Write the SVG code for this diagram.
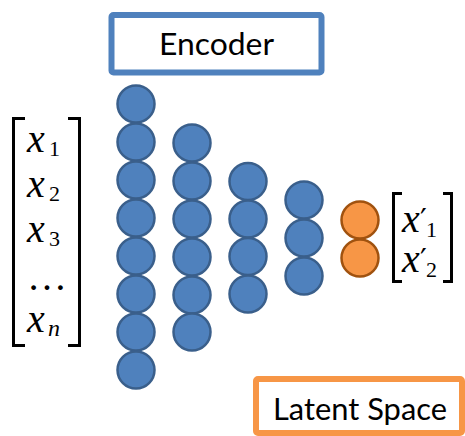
<svg xmlns="http://www.w3.org/2000/svg" width="465" height="436" viewBox="0 0 465 436">
<style>
.n{fill:#4F81BD;stroke:#3A5F8B;stroke-width:2.5}
.o{fill:#F79646;stroke:#A0520F;stroke-width:2.5}
.lbl{font-family:Lato,"Liberation Sans",sans-serif;font-size:30px;fill:#000}
.v{font-family:"Liberation Serif",serif;font-style:italic;font-size:40px;fill:#000}
.s{font-family:"Liberation Serif",serif;font-size:22px;fill:#000}
.si{font-family:"Liberation Serif",serif;font-style:italic;font-size:24px;fill:#000}
.sub{font-family:"Liberation Serif",serif;font-style:normal;font-size:22px}
.p{font-family:"DejaVu Sans",sans-serif;font-style:normal;font-size:30px}
.dots{font-family:"Liberation Serif",serif;font-size:40px;fill:#000}
.br{fill:none;stroke:#000;stroke-width:3}
</style>
<rect width="465" height="436" fill="#fff"/>
<g id="encoder">
<rect x="111.5" y="15" width="210" height="57.5" rx="2" fill="#fff" stroke="#4F81BD" stroke-width="6"/>
<text class="lbl" x="216.5" y="55" text-anchor="middle" textLength="115" lengthAdjust="spacingAndGlyphs">Encoder</text>
</g>
<g id="latent-space">
<rect x="256" y="379" width="206" height="54" rx="2" fill="#fff" stroke="#F79646" stroke-width="6"/>
<text class="lbl" x="360" y="420" text-anchor="middle" textLength="174" lengthAdjust="spacingAndGlyphs">Latent Space</text>
</g>
<g id="input-vector">
<path class="br" d="M25,118.5 H13.5 V345.5 H25"/>
<path class="br" d="M68,118.5 H79.5 V345.5 H68"/>
<text class="v" x="27" y="152">x</text><text class="s" x="49" y="156">1</text>
<text class="v" x="27" y="197">x</text><text class="s" x="49" y="201">2</text>
<text class="v" x="27" y="242">x</text><text class="s" x="49" y="246">3</text>
<text class="dots" x="47" y="290" text-anchor="middle">…</text>
<text class="v" x="27" y="332">x</text><text class="si" x="48" y="336">n</text>
</g>
<g id="layer1">
<circle class="n" cx="136" cy="104" r="18.5"/>
<circle class="n" cx="136" cy="142" r="18.5"/>
<circle class="n" cx="136" cy="180" r="18.5"/>
<circle class="n" cx="136" cy="218" r="18.5"/>
<circle class="n" cx="136" cy="256" r="18.5"/>
<circle class="n" cx="136" cy="294" r="18.5"/>
<circle class="n" cx="136" cy="332" r="18.5"/>
<circle class="n" cx="136" cy="370" r="18.5"/>
</g>
<g id="layer2">
<circle class="n" cx="192" cy="143" r="18.5"/>
<circle class="n" cx="192" cy="181" r="18.5"/>
<circle class="n" cx="192" cy="219" r="18.5"/>
<circle class="n" cx="192" cy="257" r="18.5"/>
<circle class="n" cx="192" cy="295" r="18.5"/>
<circle class="n" cx="192" cy="332" r="18.5"/>
</g>
<g id="layer3">
<circle class="n" cx="248" cy="181.5" r="18.5"/>
<circle class="n" cx="248" cy="219" r="18.5"/>
<circle class="n" cx="248" cy="256.5" r="18.5"/>
<circle class="n" cx="248" cy="294" r="18.5"/>
</g>
<g id="layer4">
<circle class="n" cx="304" cy="200" r="18.5"/>
<circle class="n" cx="304" cy="238" r="18.5"/>
<circle class="n" cx="304" cy="276" r="18.5"/>
</g>
<g id="latent">
<circle class="o" cx="360" cy="220" r="18.5"/>
<circle class="o" cx="360" cy="258" r="18.5"/>
</g>
<g id="latent-vector">
<path class="br" d="M402,193.5 H393.5 V281.5 H402"/>
<path class="br" d="M443,193.5 H451.5 V281.5 H443"/>
<text class="v" x="402" y="232">x<tspan class="p" x="420" y="230">′</tspan><tspan class="sub" x="426" y="237">1</tspan></text>
<text class="v" x="402" y="272">x<tspan class="p" x="420" y="270">′</tspan><tspan class="sub" x="426" y="277">2</tspan></text>
</g>
<g id="connectors"></g>
</svg>
